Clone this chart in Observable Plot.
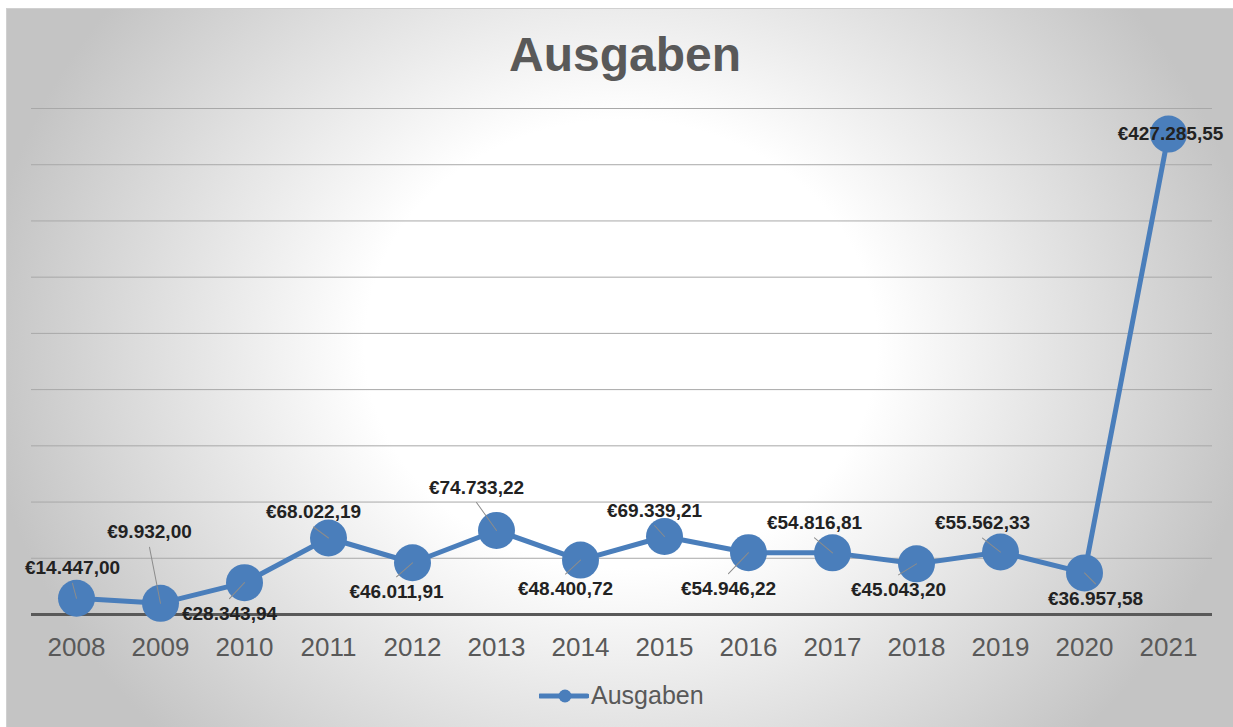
<!DOCTYPE html>
<html>
<head>
<meta charset="utf-8">
<script src="https://cdn.jsdelivr.net/npm/d3@7"></script>
<script src="https://cdn.jsdelivr.net/npm/@observablehq/plot@0.6"></script>
<style>
  html, body { margin: 0; padding: 0; background: #ffffff; }
  body { width: 1233px; height: 727px; overflow: hidden; position: relative; font-family: "Liberation Sans", Arial, sans-serif; }
  #frame {
    position: absolute; left: 6px; top: 8px; width: 1250px; height: 740px;
    border: 1px solid #d0d0d0; box-sizing: border-box;
    background: radial-gradient(ellipse 640px 560px at 614px 335px, #ffffff 0%, #ffffff 40%, #c4c4c4 100%);
  }
  #title {
    position: absolute; left: 0; top: 31px; width: 1250px; text-align: center;
    font-size: 48px; line-height: 48px; font-weight: bold; color: #595959;
  }
  #chart { position: absolute; left: 0; top: 95px; }
  #legend-key { position: absolute; left: 539px; top: 689px; }
  #legend-text { position: absolute; left: 591px; top: 683px; font-size: 25px; line-height: 25px; color: #595959; }
</style>
</head>
<body>
<div id="frame"></div>
<div id="title">Ausgaben</div>
<div id="chart"></div>
<svg id="legend-key" width="50" height="14"></svg>
<div id="legend-text"></div>
<script>
// ---- Data ----
const seriesName = "Ausgaben";
const years = ["2008","2009","2010","2011","2012","2013","2014","2015","2016","2017","2018","2019","2020","2021"];
const ausgaben = [14447.00, 9932.00, 28343.94, 68022.19, 46011.91, 74733.22, 48400.72, 69339.21, 54946.22, 54816.81, 45043.20, 55562.33, 36957.58, 427285.55];
const gridValues = [50000, 100000, 150000, 200000, 250000, 300000, 350000, 400000, 450000];

// ---- Rendering ----
const lineColor = "#4a7ebb";
const de = d3.formatLocale({decimal: ",", thousands: ".", grouping: [3], currency: ["€", ""]});
const fmt = de.format("$,.2f");

const rows = years.map((y, i) => ({year: y, value: ausgaben[i], label: fmt(ausgaben[i])}));

function drawChart() {
  // label nudges (pixels, from the marker centre), as placed in the original
  const nudge = [[-4,-30],[-11,-71],[-15,31],[-15,-26],[-16,29],[-20,-43],[-15,29],[-10,-26],[-20,36],[-18,-30],[-18,26],[-18,-29],[11,26],[2,0]];
  const leaders = rows.map((d, i) => {
    const [ox, oy] = nudge[i];
    if (oy === 0) return {...d, len: 0, ang: 0};
    const sx = ox, sy = oy > 0 ? oy - 15 : oy + 15;
    return {...d, len: Math.hypot(sx, sy), ang: Math.atan2(sx, -sy) * 180 / Math.PI};
  }).filter(d => d.len > 0);

  const lineShape = {draw(context, l) { context.moveTo(0, 0); context.lineTo(0, -l); }};

  const labelMarks = rows.map((d, i) => Plot.text([d], {
    x: "year", y: "value", text: "label",
    dx: nudge[i][0], dy: nudge[i][1],
    fontSize: 19, fontWeight: "bold", fill: "#222222"
  }));

  const plot = Plot.plot({
    width: 1233,
    height: 570,
    marginTop: 13,
    marginBottom: 51,
    marginLeft: 31,
    marginRight: 21,
    style: {background: "transparent", color: "#595959", fontFamily: "'Liberation Sans', Arial, sans-serif", overflow: "visible"},
    x: {type: "point", domain: years, padding: 0.5, label: null},
    y: {domain: [0, 450000], axis: null},
    length: {type: "identity"},
    marks: [
      Plot.ruleY(gridValues, {stroke: "#a8a8a8", strokeWidth: 1}),
      Plot.ruleY([0], {stroke: "#595959", strokeWidth: 3}),
      Plot.axisX({tickSize: 0, tickPadding: 23, fontSize: 26, fill: "#595959"}),
      Plot.line(rows, {x: "year", y: "value", stroke: lineColor, strokeWidth: 5}),
      Plot.dot(rows, {x: "year", y: "value", r: 18.5, fill: lineColor, stroke: "none"}),
      Plot.vector(leaders, {x: "year", y: "value", length: "len", rotate: "ang", anchor: "start", shape: lineShape, stroke: "#8c8c8c", strokeWidth: 1}),
      ...labelMarks
    ]
  });
  document.getElementById("chart").appendChild(plot);

  // legend
  const key = d3.select("#legend-key");
  key.append("line").attr("x1", 1).attr("x2", 48).attr("y1", 7).attr("y2", 7)
    .attr("stroke", lineColor).attr("stroke-width", 5).attr("stroke-linecap", "round");
  key.append("circle").attr("cx", 26).attr("cy", 7).attr("r", 6.5).attr("fill", lineColor);
  document.getElementById("legend-text").textContent = seriesName;
}
drawChart();
</script>
</body>
</html>
